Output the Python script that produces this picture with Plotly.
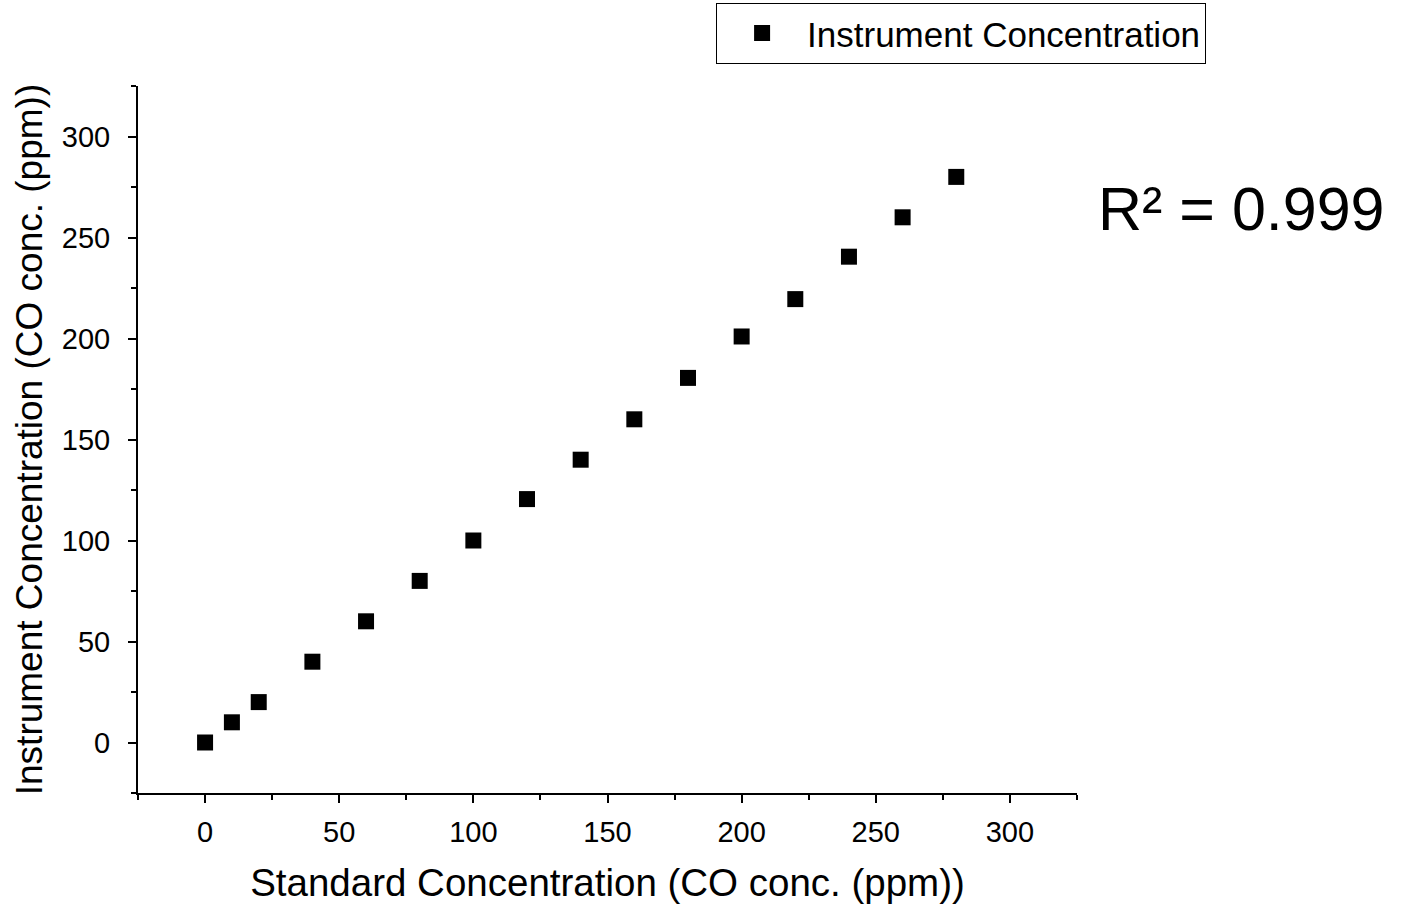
import plotly.graph_objects as go

standard_conc = [0, 10, 20, 40, 60, 80, 100, 120, 140, 160, 180, 200, 220, 240, 260, 280]
instrument_conc = [0, 10, 20, 40, 60, 80, 100, 120.5, 140, 160, 180.5, 201, 219.5, 240.5, 260, 280]
series_name = "Instrument Concentration"
r2_text = "R² = 0.999"
x_title = "Standard Concentration (CO conc. (ppm))"
y_title = "Instrument Concentration (CO conc. (ppm))"
tick_vals = [0, 50, 100, 150, 200, 250, 300]

FONT = "Liberation Sans, Arial, sans-serif"

fig = go.Figure()
fig.add_trace(go.Scatter(
    x=standard_conc, y=instrument_conc, mode="markers", name=series_name,
    marker=dict(symbol="square", size=16, color="black", line=dict(width=0)),
))

axis_common = dict(
    range=[-25, 325], showgrid=False, zeroline=False, showline=True,
    linecolor="black", linewidth=2, ticks="outside", ticklen=8, tickwidth=2,
    tickcolor="black", tickvals=tick_vals,
    tickfont=dict(family=FONT, size=29, color="black"),
    minor=dict(ticks="outside", ticklen=5, tickwidth=2, tickcolor="black", dtick=25, tick0=0),
    mirror=False, automargin=False,
)

fig.update_layout(
    width=1418, height=906,
    margin=dict(l=138, r=341, t=86, b=113, autoexpand=False),
    paper_bgcolor="white", plot_bgcolor="white",
    font=dict(family=FONT, color="black"),
    xaxis=dict(**axis_common, title=dict(text=x_title, font=dict(family=FONT, size=38.5), standoff=22),
               ticklabelstandoff=4),
    yaxis=dict(**axis_common, title=dict(text=y_title, font=dict(family=FONT, size=37), standoff=8),
               ticklabelstandoff=12),
    showlegend=True,
    legend=dict(xref="container", yref="container", x=0.505, y=0.997,
                xanchor="left", yanchor="top",
                bordercolor="black", borderwidth=1, bgcolor="white",
                font=dict(family=FONT, size=35, color="black"),
                itemwidth=80),
    annotations=[dict(text=r2_text, xref="paper", yref="paper", x=1.1755, y=0.826,
                      xanchor="center", yanchor="middle", showarrow=False,
                      font=dict(family=FONT, size=61, color="black"))],
)

fig.write_html("out.html")
